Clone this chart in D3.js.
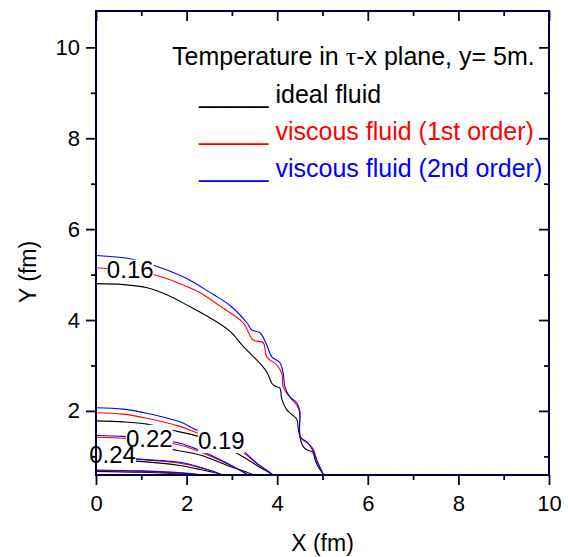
<!DOCTYPE html>
<html>
<head>
<meta charset="utf-8">
<script src="https://cdn.jsdelivr.net/npm/d3@7"></script>
<style>
  body { margin: 0; background: #fff; }
  text { font-family: "Liberation Sans", Arial, sans-serif; }
</style>
</head>
<body>
<div id="chart"></div>
<script>
// Contour lines, [X (fm), Y (fm)]
// ideal fluid
const ideal016 = [[0,4.80],[0.6,4.78],[1.13,4.71],[1.6,4.54],[2.08,4.29],[2.55,4.03],[2.96,3.75],[3.25,3.42],[3.68,2.98],[3.80,2.80],[3.88,2.61],[3.95,2.55],[4.06,2.50],[4.10,2.26],[4.21,2.03],[4.30,1.94],[4.43,1.82],[4.47,1.58],[4.57,1.22],[4.68,1.13],[4.78,1.10],[4.84,0.92],[4.90,0.78],[5.02,0.60],[5.05,0.54]];
const ideal019 = [[0,1.78],[0.6,1.76],[1.12,1.71],[1.8,1.55],[2.30,1.43],[2.75,1.25],[3.18,1.03],[3.55,0.80],[3.92,0.58],[3.96,0.53]];
const ideal022 = [[0,1.30],[0.6,1.28],[1.12,1.24],[1.8,1.13],[2.30,1.03],[2.9,0.80],[3.47,0.59],[3.52,0.54]];
const ideal024 = [[0,0.94],[0.97,0.89],[1.85,0.80],[2.30,0.71],[2.85,0.58],[2.9,0.54]];
const ideal026 = [[0,0.67],[1.0,0.65],[2.0,0.60],[2.3,0.56]];
// viscous fluid, 1st order
const first016 = [[0,5.15],[0.75,5.09],[1.35,4.98],[1.97,4.75],[2.30,4.60],[2.75,4.30],[3.25,3.94],[3.47,3.56],[3.69,3.50],[3.77,3.19],[3.99,3.01],[4.10,2.84],[4.13,2.53],[4.24,2.35],[4.43,2.13],[4.49,2.00],[4.52,1.42],[4.68,1.28],[4.79,1.17],[4.88,0.90],[5.02,0.60],[5.05,0.54]];
const first019 = [[0,1.96],[0.6,1.93],[1.12,1.84],[1.85,1.66],[2.22,1.52],[2.7,1.36],[3.18,1.14],[3.55,0.84],[3.91,0.59],[3.95,0.54]];
const first022 = [[0,1.42],[0.6,1.40],[1.12,1.36],[1.85,1.25],[2.22,1.13],[2.8,0.88],[3.38,0.58],[3.43,0.54]];
const first024 = [[0,0.99],[0.97,0.93],[1.85,0.85],[2.30,0.75],[2.78,0.59],[2.84,0.54]];
const first026 = [[0,0.69],[1.0,0.67],[2.1,0.61],[2.48,0.56]];
// viscous fluid, 2nd order
const second016 = [[0,5.42],[0.75,5.35],[1.35,5.18],[1.97,4.93],[2.59,4.56],[2.96,4.32],[3.33,3.94],[3.44,3.78],[3.62,3.72],[3.77,3.45],[3.88,3.19],[4.06,3.06],[4.13,2.84],[4.17,2.53],[4.28,2.31],[4.43,2.18],[4.50,2.00],[4.51,1.42],[4.65,1.32],[4.79,1.13],[4.88,0.90],[5.02,0.60],[5.05,0.54]];
const second019 = [[0,2.07],[0.6,2.04],[1.12,1.95],[1.85,1.76],[2.22,1.58],[2.7,1.40],[3.18,1.17],[3.55,0.85],[3.91,0.59],[3.95,0.54]];
const second022 = [[0,1.46],[0.6,1.44],[1.12,1.40],[1.85,1.29],[2.22,1.16],[2.8,0.90],[3.35,0.59],[3.40,0.55]];
const second024 = [[0,1.01],[0.97,0.94],[1.85,0.87],[2.30,0.76],[2.76,0.60],[2.82,0.55]];
const second026 = [[0,0.70],[1.0,0.68],[2.1,0.62],[2.45,0.57]];

// contour labels: text and anchor (data coords)
const levelLabels = ["0.16", "0.22", "0.19", "0.24"];
const labelAnchors = [[0.24, 4.93], [0.66, 1.21], [2.25, 1.16], [-0.15, 0.86]];

// axes
const xMajor = [0, 2, 4, 6, 8, 10];
const xMinor = [1, 3, 5, 7, 9];
const yMajor = [2, 4, 6, 8, 10];
const yMinor = [1, 3, 5, 7, 9];

const legendTitle = ["Temperature in ", "\u03C4", "-x plane, y= 5m."];
const seriesNames = ["ideal fluid", "viscous fluid (1st order)", "viscous fluid (2nd order)"];
const seriesColors = ["#000000", "#ff0000", "#0000ff"];

const width = 568, height = 557;
const frame = "#000033";

const svg = d3.select("#chart").append("svg")
  .attr("width", width)
  .attr("height", height);

const x = d3.scaleLinear().domain([0, 10]).range([96, 549]);
const y = d3.scaleLinear().domain([0.59, 10.80]).range([475, 11]);

svg.append("clipPath").attr("id", "clip")
  .append("rect")
  .attr("x", x(0)).attr("y", y(10.80))
  .attr("width", x(10) - x(0)).attr("height", y(0.59) - y(10.80));

const line = d3.line()
  .x(d => x(d[0]))
  .y(d => y(d[1]))
  .curve(d3.curveCatmullRom.alpha(0.5));

const series = [
  [ideal016, ideal019, ideal022, ideal024, ideal026],
  [first016, first019, first022, first024, first026],
  [second016, second019, second022, second024, second026]
];

const plot = svg.append("g").attr("clip-path", "url(#clip)");
const gBlack = plot.append("g");
const gRed = plot.append("g");
const gUnder = svg.append("g");   // knockouts that blue lines cross
const gBlue = plot.append("g");
const gBoxes = svg.append("g");
const gLabels = svg.append("g");

[gBlack, gRed, gBlue].forEach((g, i) => {
  g.selectAll("path")
    .data(series[i])
    .enter()
    .append("path")
    .attr("d", line)
    .attr("fill", "none")
    .attr("stroke", seriesColors[i])
    .attr("stroke-width", 1.1);
});

// contour labels with white knockout boxes
levelLabels.forEach((lab, i) => {
  const t = gLabels.append("text")
    .attr("x", x(labelAnchors[i][0]))
    .attr("y", y(labelAnchors[i][1]))
    .attr("font-size", 24)
    .attr("fill", "#000")
    .text(lab);
  const b = t.node().getBBox();
  const under = lab === "0.24" || lab === "0.16";
  (under ? gUnder : gBoxes).append("rect")
    .attr("x", b.x).attr("y", b.y + (lab === "0.16" ? 4 : 0))
    .attr("width", b.width).attr("height", b.height - (lab === "0.16" ? 5 : 1))
    .attr("fill", "#fff");
});

// axes: bottom & left with labels, top & right mirrored inward
const fmt = d3.format("d");
const axisStyle = g => {
  g.select(".domain").remove();
  g.selectAll("line").attr("stroke", frame).attr("stroke-width", 1.8);
  g.selectAll("text").attr("font-size", 22).attr("fill", "#000")
    .attr("font-family", "'Liberation Sans', Arial, sans-serif");
};

svg.append("g").attr("transform", `translate(0,${y(0.59)})`)
  .call(d3.axisBottom(x).tickValues(xMajor).tickFormat(fmt).tickSize(10).tickPadding(10))
  .call(axisStyle);
svg.append("g").attr("transform", `translate(0,${y(0.59)})`)
  .call(d3.axisBottom(x).tickValues(xMinor).tickFormat("").tickSize(5))
  .call(axisStyle);
svg.append("g").attr("transform", `translate(${x(0)},0)`)
  .call(d3.axisLeft(y).tickValues(yMajor).tickFormat(fmt).tickSize(10).tickPadding(6))
  .call(axisStyle);
svg.append("g").attr("transform", `translate(${x(0)},0)`)
  .call(d3.axisLeft(y).tickValues(yMinor).tickFormat("").tickSize(5))
  .call(axisStyle);
svg.append("g").attr("transform", `translate(0,${y(10.80)})`)
  .call(d3.axisBottom(x).tickValues(xMajor).tickFormat("").tickSize(10))
  .call(axisStyle);
svg.append("g").attr("transform", `translate(0,${y(10.80)})`)
  .call(d3.axisBottom(x).tickValues(xMinor).tickFormat("").tickSize(5))
  .call(axisStyle);
svg.append("g").attr("transform", `translate(${x(10)},0)`)
  .call(d3.axisLeft(y).tickValues(yMajor).tickFormat("").tickSize(10))
  .call(axisStyle);
svg.append("g").attr("transform", `translate(${x(10)},0)`)
  .call(d3.axisLeft(y).tickValues(yMinor).tickFormat("").tickSize(5))
  .call(axisStyle);

// frame
svg.append("rect")
  .attr("x", x(0)).attr("y", y(10.80))
  .attr("width", x(10) - x(0)).attr("height", y(0.59) - y(10.80))
  .attr("fill", "none")
  .attr("stroke", frame)
  .attr("stroke-width", 2);

// axis titles
svg.append("text")
  .attr("x", (x(0) + x(10)) / 2).attr("y", 551)
  .attr("text-anchor", "middle")
  .attr("font-size", 23)
  .text("X (fm)");
svg.append("text")
  .attr("transform", "translate(36,272) rotate(-90)")
  .attr("text-anchor", "middle")
  .attr("font-size", 23)
  .text("Y (fm)");

// legend
const title = svg.append("text")
  .attr("x", 172).attr("y", 65)
  .attr("font-size", 25);
legendTitle.forEach((s, i) => {
  const ts = title.append("tspan").text(s);
  if (i === 1) ts.attr("font-family", "'Liberation Serif', serif").attr("font-size", 26);
});

svg.selectAll(".legend")
  .data(seriesNames)
  .enter()
  .append("text")
  .attr("class", "legend")
  .attr("x", 199)
  .attr("y", (d, i) => 103 + i * 37)
  .attr("font-size", 25)
  .attr("fill", (d, i) => seriesColors[i])
  .attr("xml:space", "preserve")
  .text(d => "_____ " + d);
</script>
</body>
</html>
